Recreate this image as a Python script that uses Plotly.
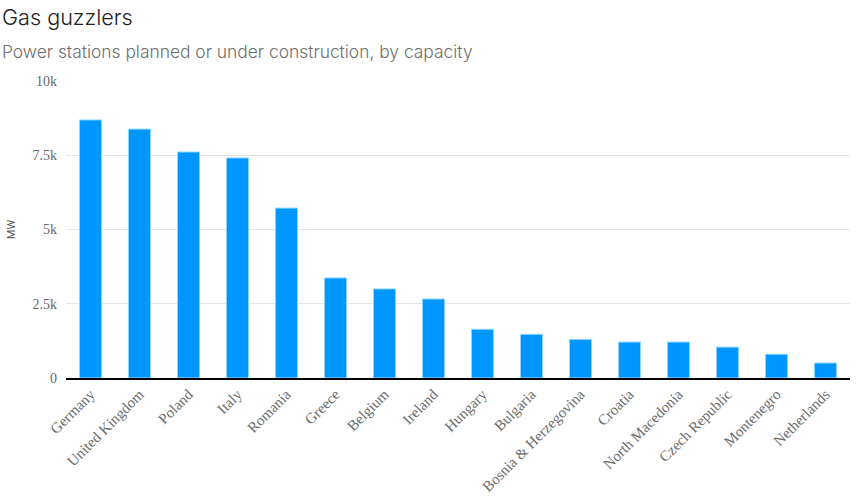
import plotly.graph_objects as go

countries = ["Germany", "United Kingdom", "Poland", "Italy", "Romania", "Greece",
             "Belgium", "Ireland", "Hungary", "Bulgaria", "Bosnia & Herzegovina",
             "Croatia", "North Macedonia", "Czech Republic", "Montenegro", "Netherlands"]
capacity_mw = [8690, 8380, 7610, 7410, 5720, 3370, 3000, 2660, 1640, 1470, 1300,
               1210, 1210, 1040, 800, 505]

fig = go.Figure(go.Bar(
    x=countries, y=capacity_mw,
    marker=dict(color="#0096ff", line=dict(color="#8fd6ff", width=1)),
    hoverinfo="x+y",
))

fig.update_layout(
    width=858, height=498,
    margin=dict(l=66, r=8, t=81, b=120),
    paper_bgcolor="white", plot_bgcolor="white",
    bargap=0.55,
    showlegend=False,
    annotations=[
        dict(text="Gas guzzlers", x=0, y=1, xref="paper", yref="paper",
             xanchor="left", yanchor="middle", showarrow=False,
             font=dict(family="Inter, Roboto, sans-serif", size=21.6, color="#222222", weight=300)),
        dict(text="Power stations planned or under construction, by capacity",
             x=0, y=1, xref="paper", yref="paper", xanchor="left", yanchor="middle",
             showarrow=False,
             font=dict(family="Inter, Roboto, sans-serif", size=17.4, color="#6e6e6e", weight=300)),
    ],
)
fig.layout.annotations[0].update(x=-66/784, y=1 + (81 - 17) / 297)
fig.layout.annotations[1].update(x=-66/784, y=1 + (81 - 52) / 297)

fig.update_yaxes(
    range=[0, 10000], tickvals=[0, 2500, 5000, 7500, 10000],
    ticktext=["0", "2.5k", "5k", "7.5k", "10k"],
    showgrid=True, gridcolor="#e5e5e5", gridwidth=1,
    zeroline=False, showline=False, ticks="",
    tickfont=dict(family="Liberation Serif, Times New Roman, serif", size=14, color="#666666"),
    ticklabelstandoff=8, automargin=False,
    title=dict(text="MW", font=dict(family="Roboto, Arial, sans-serif", size=11, color="#555555"),
               standoff=14),
)
fig.update_xaxes(
    showline=True, linecolor="#000000", linewidth=1.5,
    tickangle=-45, ticks="", automargin=False,
    tickfont=dict(family="Liberation Serif, Times New Roman, serif", size=15, color="#6b6b6b"),
)

fig.write_html("out.html")
